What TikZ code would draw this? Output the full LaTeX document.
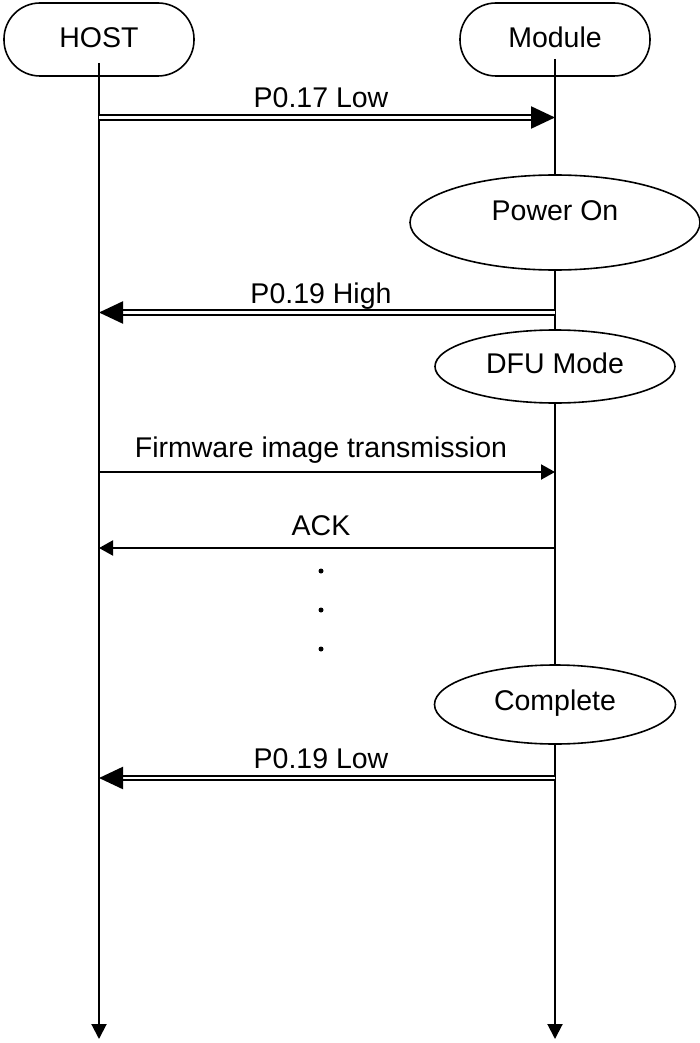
\documentclass[tikz,border=0pt]{standalone}
\usepackage{fontspec}
\setmainfont{Liberation Sans}
\usetikzlibrary{arrows.meta,shapes.geometric}
\begin{document}
\begin{tikzpicture}[
  x=1pt, y=-1pt,
  font=\fontsize{28.5}{34}\selectfont,
  actorbox/.style={rectangle, rounded corners=36pt, minimum width=190pt, minimum height=73pt, draw=black, line width=1.6pt, text depth=4pt},
  statebox/.style={ellipse, inner sep=0pt, draw=black, fill=white, line width=1.6pt},
  lifeline/.style={line width=2pt, -{Triangle[length=15pt,width=15pt]}},
  dblarr/.style={double, line width=2.3pt, double distance=2.2pt, -{Triangle[length=24pt,width=22pt]}},
  arr/.style={line width=2pt, -{Triangle[length=14pt,width=15pt]}},
  msglabel/.style={anchor=base, inner sep=0pt, xshift=-6pt, yshift=9.5pt},
  dotmark/.style={circle, fill=black, inner sep=0pt, minimum size=5pt}
]
\useasboundingbox (0,0) rectangle (700,1043);

\node (host) [actorbox] at (99,39.5) {HOST};
\node (module) [actorbox] at (555,39.5) {Module};
\coordinate (hostEnd) at (99,1039);
\coordinate (moduleEnd) at (555,1039);

\draw [lifeline] ([yshift=14pt]host.south) -- (hostEnd);
\draw [lifeline] ([yshift=18pt]module.south) -- (moduleEnd);

\node (poweron) [statebox, minimum width=290pt, minimum height=95pt, text depth=24pt] at (555,222.5) {Power On};
\node (dfu) [statebox, minimum width=240pt, minimum height=73pt, text depth=7pt] at (555,366.5) {DFU Mode};
\node (complete) [statebox, minimum width=241pt, minimum height=79pt, text depth=8pt] at (555,704.5) {Complete};

\coordinate (h1) at (99,117.5); \coordinate (m1) at (555,117.5);
\coordinate (h2) at (99,312.5); \coordinate (m2) at (555,312.5);
\coordinate (h3) at (99,472);   \coordinate (m3) at (555,472);
\coordinate (h4) at (99,548);   \coordinate (m4) at (555,548);
\coordinate (h5) at (99,778);   \coordinate (m5) at (555,778);

\draw [dblarr] (h1) -- node[msglabel] {P0.17 Low} (m1);
\draw [dblarr] (m2) -- node[msglabel] {P0.19 High} (h2);
\draw [arr] (h3) -- node[msglabel, yshift=5pt] {Firmware image transmission} (m3);
\draw [arr] (m4) -- node[msglabel, yshift=3.5pt] {ACK} (h4);
\draw [dblarr] (m5) -- node[msglabel] {P0.19 Low} (h5);

\node (dot1) [dotmark] at (321,571) {};
\node (dot2) [dotmark] at (321,610) {};
\node (dot3) [dotmark] at (321,649) {};

\end{tikzpicture}
\end{document}
